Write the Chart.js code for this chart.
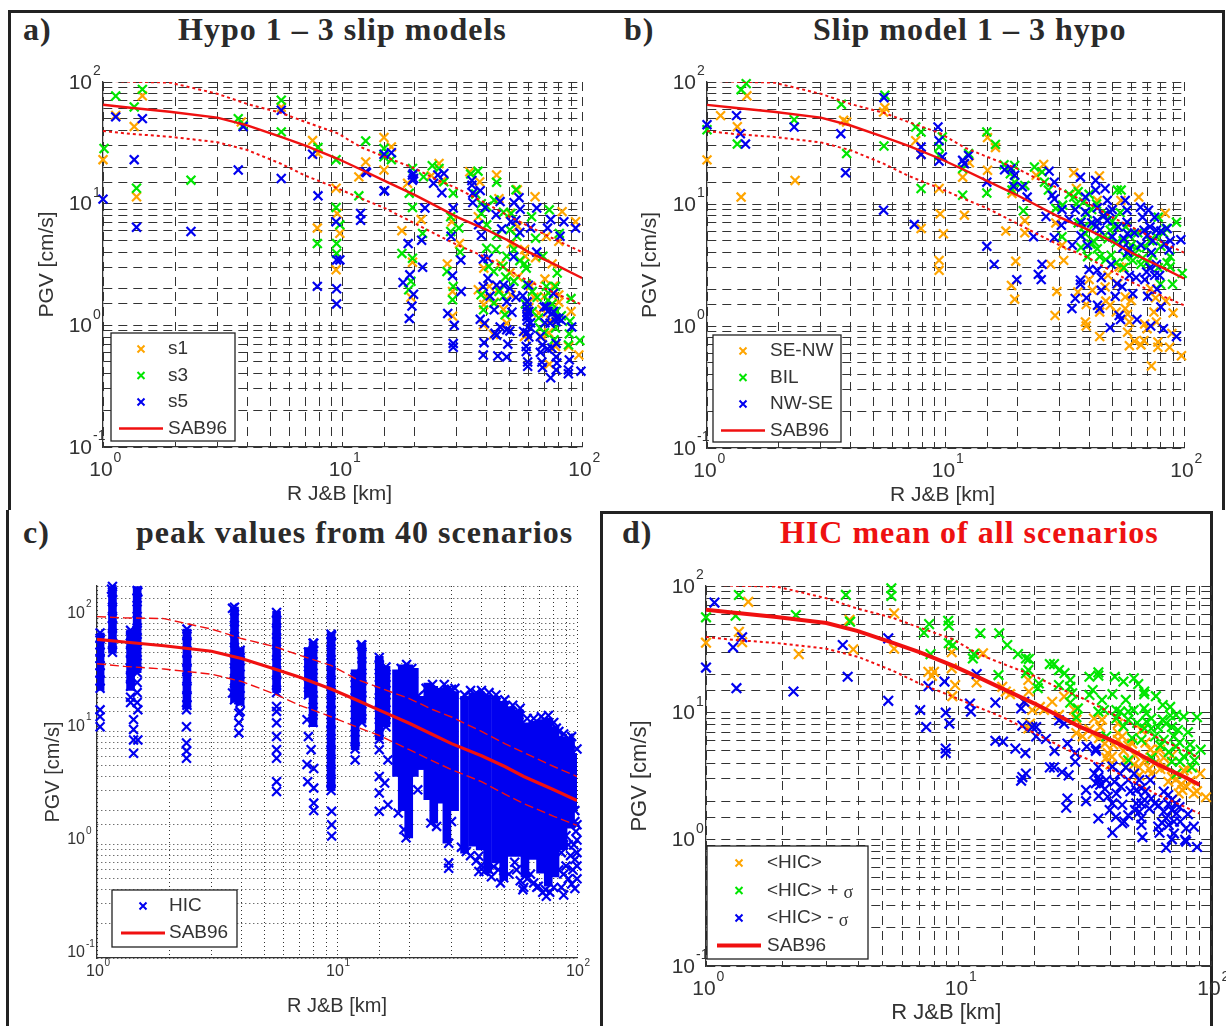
<!DOCTYPE html>
<html>
<head>
<meta charset="utf-8">
<title>PGV vs distance</title>
<script src="https://cdn.jsdelivr.net/npm/chart.js@4/dist/chart.umd.min.js"></script>
<style>
    html, body { margin: 0; padding: 0; background: #fff; width: 1226px; height: 1026px; overflow: hidden; }
    canvas { position: absolute; }
    .rule { position: absolute; background: #222; }
    .head { position: absolute; font: bold 32px "Liberation Serif", serif; letter-spacing: 1px; color: #2a2a2a; white-space: nowrap; line-height: 36px; }
    .red { color: #ee1111; }
</style>
</head>
<body>
<div class="rule" style="left:8px;top:10px;width:1216px;height:3px"></div>
<div class="rule" style="left:8px;top:10px;width:3px;height:500px"></div>
<div class="rule" style="left:1222px;top:10px;width:3px;height:500px"></div>
<div class="rule" style="left:6px;top:510px;width:3px;height:516px"></div>
<div class="rule" style="left:600px;top:511px;width:612px;height:3px"></div>
<div class="rule" style="left:600px;top:511px;width:3px;height:515px"></div>
<div class="rule" style="left:1210px;top:511px;width:3px;height:515px"></div>

<div class="head" style="left:23px;top:11px">a)</div>
<div class="head" style="left:178px;top:11px">Hypo 1 – 3 slip models</div>
<div class="head" style="left:624px;top:11px">b)</div>
<div class="head" style="left:813px;top:11px">Slip model 1 – 3 hypo</div>
<div class="head" style="left:23px;top:514px">c)</div>
<div class="head" style="left:136px;top:514px">peak values from 40 scenarios</div>
<div class="head" style="left:622px;top:514px">d)</div>
<div class="head red" style="left:780px;top:514px">HIC mean of all scenarios</div>

<canvas id="chartA"></canvas>
<canvas id="chartB"></canvas>
<canvas id="chartC"></canvas>
<canvas id="chartD"></canvas>

<script>
// SAB96 attenuation curve, mean and +/- sigma
const sabX = [1, 1.3, 1.9, 3, 4, 5.5, 7, 9.5, 12, 15, 20, 25, 30, 40, 50, 60, 80, 100];
const sabMean = [65, 61.5, 57, 51, 44, 35.5, 30, 23.5, 19, 15.4, 11.8, 9.4, 7.8, 6.1, 4.9, 4, 3.05, 2.45];
const sabUp = [103, 100.5, 99, 80, 66, 56, 47, 38, 29, 24.3, 19.5, 15.6, 13.4, 10, 7.8, 6.5, 4.9, 4];
const sabLow = [39.6, 37.5, 35.5, 32, 27.6, 21.4, 17, 13.4, 11, 9.2, 6.9, 5.5, 4.6, 3.6, 2.8, 2.3, 1.78, 1.48];

// Panel a: [distance, PGV]
const aS1 = [[1,23],[1.13,53],[1.35,43],[1.46,77],[1.38,11.4],[3.78,47],[5.55,62],[7.5,33],[7.9,25.8],[9.4,13.4],[9.5,8.3],[9.75,5.7],[9.4,2.86],[7.85,6.3],[11.7,16.6],[12.5,22],[14.9,35],[14.9,18.9],[16,29.3],[18.7,14.7],[17.7,6],[21.3,7.4],[19.6,3.3],[19.3,1.7],
    [25.3,21.4],[23.5,17],[26.3,15.6],[28.6,7.1],[30.8,4.7],[27.4,3.2],[28.8,1.9],[28.8,1.19],[34,18.3],[37.4,15.1],[36.9,7.8],[38.9,2.95],[36.9,1.96],[38.9,1.48],[38.8,1.01],[44,17.2],[45,11],[50,8.3],[53.7,13],[54,6.5],[50.6,4.7],[57.6,4.2],[63.7,11.4],[71,5.4],[80,4.9],[82.6,8.6],[94,7.1],[64,3.6],[50,2.7],[45.7,3.2],[45,2],[41,2.09],[50.6,1.78],[61,2.1],[66,1.26],[72.6,0.87],[69.7,1.73],[75,3.2],[80,1.78],[90,1.3],[97,0.57],[88,0.67],[73,0.48],[77.5,0.67],[68,0.81],[57.5,0.81],[48.5,1.04],[42.7,0.84],
    [60,1.4],[63,1.7],[68,1.35],[74,1.1],[80,1.55],[40,1.7],[43,1.55],[47,1.35],[54,2.5],[58,3.7],[70,2.4],[76,2.1]];
const aS3 = [[1.01,28.4],[1.13,76.7],[1.35,62.4],[1.46,87],[1.38,13.4],[2.33,15.6],[3.67,50],[3.85,44],[5.55,70.8],[5.55,38.9],[7.9,29],[9.4,23],[9.4,9.3],[9.75,6.7],[7.85,4.7],[9.45,4.7],[9.45,3.9],[11.7,11.6],[12.5,32.8],[14.9,28.4],[14.9,24.3],[16,23],[19.6,19.5],[19.6,9.3],[19,12.2],[17.7,3.9],[19.6,3.56],[19.3,2.3],[18.9,1.96],[21.8,16.6],[21.6,5.7],[23.7,20.5],[25.3,19.5],[26.5,15.1],[29,12.2],[28.3,7.8],[28.3,5.9],[30.6,6.3],[31,4],[27.3,2.77],[29,2.09],[28.8,1.62],[34.3,17.5],[36.8,18.5],[38,10],[38,8.3],[40,6.7],[40,4.3],[43.8,4.2],[40.8,3.05],[44,15],[43,10.7],[50.6,8.3],[53,13],[50,6.1],[53.5,5.4],[48.5,3.7],[46.8,3.05],[42.8,2.77],[37.9,1.78],[38.8,1.34],[42.9,1.52],[47,1.73],[47.7,1.22],[57.5,3.2],[58.5,2.95],[58.5,2.2],[61.6,7.8],[64,5.2],[68.7,3.7],[73,8.9],[80.4,5.7],[78.8,2.69],[71,2.09],[77.5,2.09],[72.5,1.84],[90,1.66],[89,1.08],[88.5,0.85],[87.8,0.69],[98,0.75],[66.7,0.95],[69.7,0.87],[76.5,0.76],[77.5,0.95],
    [62,1.3],[66,1.15],[72,1.6],[75,1.5],[78,1.3],[82,1.2],[58,1.5],[62,1.9],[65,1.7],[45,1.9],[52,2.3],[48,2.5],[55,3.4],[52,4.2],[44,5.5],[47,8.5],[36,12],[40,9.5]];
const aS5 = [[1,10.9],[1.13,51.7],[1.35,23],[1.38,6.4],[1.46,50],[2.33,5.9],[3.67,18.9],[3.85,43],[5.55,58.6],[5.55,16.1],[7.5,25.5],[7.9,11.6],[9.4,7.1],[9.45,3.45],[9.75,3.45],[7.85,2.09],[9.45,2],[9.45,1.5],[11.9,8.3],[11.9,7.3],[12.5,18.3],[14.9,12.7],[14.9,25.5],[16,26.2],[19.6,17.2],[19.6,15.6],
    [12.6,18],[15,12.8],[19.8,17.7],[19.8,16.1],[22.1,9.2],[18.8,4.7],[21.4,5],[21.6,3],[19.1,2.6],[17.9,2.25],[19.8,1.8],[19.5,1.44],[19,1.14],[24,14.7],[25,17.2],[26.5,17.7],[26,12.3],[29,9.2],[28.4,5.4],[28.8,2.56],[31.2,3.44],[31.3,1.9],[27.5,1.25],[29.3,1],[29,0.71],[29,0.66],[34.7,15.5],[34.7,14.2],[35,12.2],[37.6,12.8],[35,10.2],[39.4,9.3],[43.8,8.1],[45.5,10.4],[37,6.7],[38,5.5],[46.2,6.2],[52,10.2],[54.6,11.2],[55.2,9],[50.5,7.1],[53,7.3],[55,5.8],[64.7,9.2],[61,6.3],[64.7,4],[71.8,6.3],[74,7.4],[84,7.1],[81,5.4],[94,6.3],[38.7,3.5],[40.5,3.55],[40.5,2.43],[38.7,2.08],[41.3,1.74],[44,2.14],[47,2.14],[50,2.01],[48.5,1.56],[51,1.28],[43,1.34],[37.6,1.12],[39.2,1.04],[45.5,0.97],[43.3,0.86],[44,0.83],[48.5,0.92],[39,0.72],[38.7,0.57],[44.5,0.56],[48.5,0.55],[49,0.7],[51.8,3.66],[56.6,1.75],[59,1.56],[59,1.42],[59,1.29],[59,1.18],[59,1.2],[59,1.1],[57,0.89],[59,0.87],[58.5,0.67],[58.5,0.61],[59.3,0.5],[59.3,0.46],[59.7,2.14],[67,0.81],[68.4,0.69],[68,0.5],[68.4,0.45],[69.5,1.42],[71,1.42],[73.6,1.04],[71.8,0.64],[74.8,0.65],[78,0.71],[74,0.37],[78.5,0.49],[78,0.43],[76,1.83],[76,1.3],[80,1.14],[78,1.07],[88.5,0.52],[87.7,0.43],[87.7,0.4],[90.6,0.97],[99,0.42],
    [72,1.3],[75,1.25],[78,1.15],[82,1.1],[70,1.05],[60,1.3],[61,1.05],[61,0.95],[60,0.8],[67,0.6],[78,0.55],[50,0.9],[53,1.7]];

// Panel b
const bSeNw = [[1,23],[1.14,53],[1.34,43],[1.47,77],[1.39,11.4],[2.34,15.6],[3.74,48.5],[3.85,47],[5.57,61.6],[5.5,56.8],[7.5,33],[7.9,25.5],[9.4,13.4],[9.5,8.3],[7.9,6.3],[9.8,5.7],[9.4,3.45],[9.4,2.86],[12,8.1],[11.8,16.6],[12.6,21.8],[15,35],[15,18.9],[16.2,29],[17.9,6],[19.7,3.4],[18.9,2.15],[19.5,1.66],[21.5,7.3],[21.5,5.8],[19,12.2],[24,17.2],[25.8,21.1],[29,7],[27.6,3.2],[31.3,3.45],[30.8,4.6],[29.3,1.92],[28.8,1.22],[34.5,18],[35.4,13.4],[44.2,17],[38.6,1.08],[38.9,1],[44.3,0.82],[41.3,1.96],[38.9,1.5],[44.3,1.3],[46.7,2.09],[49,1.48],[53.5,3.05],[56.7,1.39],[60,1.62],[59,1.08],[58,0.89],[59,0.69],[67.9,0.76],[73,0.47],[77.7,0.67],[77.7,0.74],[87,0.67],[97.6,0.57],[90,1.28],[83.5,8.4],[64.6,11.4],[74.8,1.3],[72.4,2.02],[76.6,1.08],[89,0.87],[68.4,1.04],[54.4,10.7],[43.3,10.7],[56.7,1.73],[52.8,2.22],[35.9,1.9],
    [52,1.3],[47,1.6],[62,0.75],[66,0.7],[70,0.95],[58,1.25],[76,1.7],[84,1.6],[40,2.4],[48,2.6],[55,3]];
const bBil = [[1,40.6],[1.34,31],[1.39,86.5],[1.46,97],[2.32,49],[3.66,65.6],[3.85,25.9],[5.57,77.8],[5.52,29.9],[7.5,42.8],[7.9,38.9],[7.9,13.4],[9.4,25],[9.4,29.3],[9.7,35.4],[11.8,19.5],[11.8,11.8],[12.5,25.9],[14.9,38.9],[14.9,12.3],[16.2,30.8],[17.6,21],[19.5,20.7],[18.7,17.7],[19.5,15.1],[19,13],[21.5,14.2],[21.2,8.8],[23.6,20.1],[25.4,18.3],[26,15.1],[27,13],[30.8,5.4],[29,9.2],[34.5,11.4],[35.4,10],[39.4,8.3],[38.6,5.7],[40.6,4.7],[43.3,4.3],[44.3,3.7],[39.4,3.7],[49,6.1],[51,6.5],[52.5,13],[54.5,13],[49.5,3.8],[56.8,3.7],[61,3.45],[63.5,4.4],[69.5,4.4],[67,3.6],[76.6,5.4],[84,6.3],[78,7.8],[93,7.1],[87.5,3.7],[87.5,3.05],[89.5,2.2],[98.3,2.7],[79.7,2.2],[55.5,5],[47.5,8.3],[43,10],[37.9,10.4],
    [36,7],[38,6.5],[41,9],[42,6.8],[44,5.5],[46,8],[48,5.2],[50,7.2],[52,4.8],[54,8.5],[57,6.5],[59,5.5],[60,4.6],[62,3.9],[64,5.8],[66,3.2],[70,3.3],[72,5],[74,3.8],[78,3],[80,4.5],[82,5.8],[85,3.3],[47,3.5],[52,3.3],[56,3],[42,4.9],[37,4.4],[33,12],[31,9.8],[36,12.6],[40,12]];
const bNwSe = [[1,44.7],[1.33,53],[1.38,37.7],[1.45,31],[2.32,42.8],[3.64,37.7],[3.81,18],[5.52,74.4],[5.5,8.9],[7.4,6.8],[7.9,29.3],[7.9,25.5],[9.3,42.8],[9.4,33],[9.7,24.3],[9.4,22.5],[11.8,22.8],[12,21.4],[12.5,25],[14.9,15.1],[14.9,4.5],[16,3.2],[17.7,19.1],[18.8,19.5],[19.5,17.2],[19.3,14],[21,13.8],[22,11.4],[19.9,2.4],[23.4,5.4],[25.4,3.2],[24.5,2.65],[25.2,2.4],[27.2,18.6],[26.4,7.9],[28.6,15.1],[28,11.8],[28.6,11],[30.8,9],[30.6,6.7],[28.6,5.3],[34,4.6],[36.8,16.6],[38.6,11.4],[38.6,8.6],[37,7.1],[37,5.5],[39.4,4.6],[40,2.9],[36.8,2.37],[36.8,2.2],[39,1.7],[35,1.68],[33.9,1.39],[43.3,2.86],[42.6,15.6],[42.6,13],[43.3,9.3],[43.3,7.3],[44.3,6.1],[46.7,13.4],[47.7,10.7],[49,8.6],[47.7,7.3],[50,5.4],[49.5,3.2],[45,1.96],[51.5,1.75],[43.4,1.48],[44.3,1.39],[53.5,1.22],[54.2,1.13],[49,0.97],[52.3,2.22],[56.7,10.7],[57.7,8.9],[57.7,7.1],[58,5.7],[59,4.3],[55.5,4.4],[59,2.6],[61,1.84],[63.5,1.13],[65.7,9.4],[67,7.8],[71,8.9],[68,6.1],[72,6.5],[76.6,6.1],[75.3,7.8],[73,4],[76.6,3.2],[69.7,2.77],[68.5,2.4],[75.3,2.6],[77,2],[70.4,1.75],[80,1.43],[72.5,1],[82,0.95],[93,0.82],[85,6.3],[87.5,5],[97,5.1],[86.6,4.2],
    [41,7],[43,6.6],[46,8],[50,9],[53,6.5],[56,5.2],[58,4],[62,5.8],[66,4.6],[70,5.5],[74,5],[80,6],[83,4.7],[72,3],[79,2.6],[45,2.5],[55,2.1],[63,2.5],[35,9],[33,7.5]];

// Panel c: range of the 40 scenarios at each distance, then the marks read along and around it
const cX = [1.03,1.16,1.38,1.47,2.37,3.74,3.95,5.6,7.6,7.95,9.45,11.9,12.7,15,16,17.7,18.7,19.9,21,22.1,23.9,25.3,27.2,28.7,30.9,34,36.8,39.5,42.4,46,49.5,53,57.5,60.7,65.5,70.5,75.9,81,87.5,94,100];
const cLow = [23,49,23,33,16,18,17,22,20,11,3,6.9,11.8,8.4,11,4,2,1.15,4,4.6,2.5,1.55,2.33,1.03,2,0.84,0.97,0.9,0.56,0.69,0.49,0.79,0.79,0.52,0.74,0.56,0.43,0.52,0.9,1.4,2];
const cHigh = [74,190,79,190,80,125,55,115,55,62,74,35,60,46,37.5,35,38.7,38.7,36,20.4,26.7,25,24,25,22.5,20.4,21.8,22.5,21,20.4,18.4,16.6,15.5,11.9,12.3,12.7,13.1,11,9,8.7,6.4];
const cColumns = [
    [1.03, [24,28,33,38,44,50,58,66,74]],
    [1.16, [50,60,70,85,100,120,145,170,190]],
    [1.38, [18,20,25,30,36,42,50,60,70,78]],
    [1.47, [18,22,27,33,40,50,62,78,95,120,150,175]],
    [2.37, [17,20,24,29,35,42,50,60,72,80]],
    [3.74, [19,23,28,34,42,52,64,80,100,125]],
    [3.95, [15,18,24,32,42,52]],
    [5.6, [22,27,33,40,50,62,78,95,112]],
    [7.6, [21,26,32,40,50]],
    [7.95, [12,15,19,24,30,38,48,60]],
    [9.45, [3,3.6,4.4,5.4,6.6,8,10,12,15,18,22,27,33,40,50,62,72]],
    [11.9, [7,8.5,11,14,18,23,30]],
    [12.7, [12,15,19,24,30,38,48,58]],
    [15, [8.5,11,14,18,23,30,38,45]],
    [16, [11,14,18,23,30,37]],
];
const cLoose = [[1.03,15.5],[1.03,13.5],[1.03,11],[1.42,12.7],[1.42,10.4],[1.42,8.4],[1.42,6.4],[1.48,15.5],[1.48,8.4],[2.36,15.5],[2.36,11],[2.36,7.9],[2.36,6.7],[2.36,5.8],[3.67,21.8],[3.9,19],[3.9,14.5],[3.9,11.9],[3.9,9.7],[5.6,16.6],[5.6,15],[5.6,11.9],[5.6,9],[5.6,6.9],[5.6,5.8],[5.6,3.6],[5.6,2.95],[7.5,12.7],[7.6,9],[7.8,6.9],[7.5,5.1],[8,4.7],[7.55,3.6],[8,3.16],[8,2.33],[8,2],[9.5,1.97],[9.5,1.5],[9.5,1.19],[11.9,5.6],[15,6.9],[15,4],[15,2.86],[15,1.97],[16.3,2.25],[16.3,5.6],[15.8,3.5],[18,1.9],[19,1.36],[19.4,1.15],[21.7,3.05],[24.6,1.55],[26,1.45],[29.2,1.03],[29.2,0.69],[29.2,0.62],[34.6,0.87],[39,0.79],[39,0.58],[45,0.64],[49.5,0.51],[59.5,0.4],[69,0.43],[74.5,0.35],[88,0.36],[98,0.41],[98,0.74],[99,1.31],[98,2],[21.7,20.4],[30,23.5],[38,21.8],[73,12.7],[82,10.7],[92,8.7],[3.67,122],[8,60],[9.5,70],[12.6,58],[1.15,180],[1.48,170],
    [30,1.6],[33,0.95],[36,0.8],[38,0.72],[40,0.66],[41,0.58],[43,0.6],[44,0.52],[47,0.6],[48,0.46],[52,0.55],[55,0.7],[56,0.6],[58,0.48],[60,0.42],[62,0.5],[64,0.55],[66,0.46],[68,0.42],[72,0.38],[74,0.4],[77,0.38],[80,0.42],[84,0.6],[86,0.42],[88,0.55],[90,0.65],[92,0.5],[94,0.8],[95,0.45],[96,0.6],[97,1],[100,0.5],[100,0.65],[100,0.85],[100,1.1],[100,1.5],[98,1.6],[92,1],[90,1.2],[86,0.85],[88,1],
    [18.5,36],[19.5,39],[20.5,36],[23.5,24],[25,26],[28,26],[31,24],[34,21],[36,23],[40,23],[43,22],[46,21],[50,19],[54,17],[58,16],[62,13],[66,13],[71,13.5],[76,13.8],[80,12],[84,10],[88,9.5],[95,9],[100,7]];

// Panel d
const dMean = [[1,35.7],[1.35,43.5],[1.39,36],[1.47,75],[2.33,29],[3.7,54],[3.83,31.6],[5.56,60.8],[5.56,32],[7.6,21],[8,21],[7.85,19.5],[9.4,30],[9.4,22.4],[9.7,16.5],[9.45,13.5],[12.5,29.4],[11.8,17.3],[14.9,16],[15.4,14.7],[16,14],[18.9,18.1],[19,14.7],[18.2,12.2],[19.6,10.5],[19.2,8.2],[18.9,7.5],[21,11.1],[21.8,10.5],[23.5,12.2],[25,9.6],[28.7,10.5],[29.3,8.8],[29.3,6.9],[26.2,13.4],[34.4,9],[34,6.8],[36.4,7.7],[37,8.8],[39,4.8],[40.5,4.5],[38.5,4.4],[42.8,6.9],[44.5,6.5],[42.8,6.1],[45.3,4.2],[49.5,3.9],[48.7,5.7],[53,7.3],[57.5,5.1],[59.5,4.8],[54.5,4.2],[58,3.3],[67.8,2.85],[62.8,5.1],[70,4.6],[78,3.5],[74.5,2.3],[77,2.45],[85.5,2.3],[90.7,3.3],[95.5,2.15],[80.5,3.6],[42.8,8.2],[65,4.4],[52,3.7],
    [45,5],[47,5.5],[50,4.6],[55,5.8],[60,4],[63,3.6],[66,3.7],[70,3.1],[73,3],[76,2.7],[80,2.6],[83,2.9],[88,2.4],[41,5.6],[38,5.7],[36,6.3],[33,7.4],[31,6.5],[40,3.9],[46,3.7],[52,3.2],[57,3.6]];
const dPlus = [[1,56.6],[1.31,58.3],[1.35,84.9],[2.27,59],[3.58,85],[3.72,52.3],[5.42,96],[5.42,83.4],[7.3,42.8],[7.65,50],[7.75,29],[9.1,53.2],[9.15,48.6],[9.15,35.3],[9.5,34.2],[11.5,29],[11.4,26.8],[12.2,42.3],[14.5,42.3],[14.4,19.8],[15.6,34.2],[17.2,29],[18.5,26.8],[19,26.5],[18.9,21.7],[18.5,20.5],[20.8,17],[20.6,15.6],[23,24.2],[23.9,24.2],[25,21.7],[26.3,20.5],[25,16.5],[27.7,18.1],[27.7,16],[28.2,14.2],[27.7,12],[29.7,10.8],[29.3,9.2],[33,19.2],[35.8,20.8],[35.8,19.6],[34,15.1],[33,13.8],[37,12.6],[35.8,10.2],[37.7,10.5],[41.6,19.2],[45,17.6],[40.7,14],[49.5,18.7],[51.5,16.8],[54.4,14.7],[54.4,14],[46,12.6],[60.5,13.5],[64.4,11.5],[68.9,11.1],[72.7,9.6],[42.2,10.5],[43.7,10.2],[47,10.2],[49.4,10.5],[54.4,10.8],[55.5,9.9],[42.2,9],[47,8.8],[55.5,8.5],[54.5,7.5],[38.5,6.5],[48.7,6.3],[53,6.1],[64.4,8.8],[66.4,8.2],[61.6,7.7],[70,7.7],[74,7.3],[71.3,6.5],[78,9.3],[88,9.2],[81,7],[65,6.1],[82.6,5.6],[82.6,4.9],[91,5.1],[72.7,5.4],[68,4.9],[70,4.1],[75.3,4.1],[84,3.7],[73,3.3],[58.2,4.4],[47,4.2],
    [60,6.5],[63,5.5],[58,9],[75,5.8],[78,4.5],[86,4.2],[45,7.8],[51,8.3],[58,7.5],[69,9.5]];
const dMinus = [[1,22.7],[1.08,74],[1.28,32.8],[1.39,39.4],[1.32,15.6],[2.22,14.7],[3.48,34.2],[3.64,19.2],[5.27,38.6],[5.27,12.4],[7.05,10.5],[7.45,7.7],[7.6,16.2],[8.8,17.6],[8.9,10],[9.2,8.2],[8.9,5.2],[8.9,4.8],[11.1,11.8],[11.2,10.2],[11.8,20.2],[14,12],[14,6],[15,5.9],[16.8,5.2],[18.4,4.8],[17.7,10.8],[18.2,12.2],[17.9,7.9],[20.3,7.7],[19.6,7.7],[20.3,6.5],[22.2,6.2],[24,5],[27,5.7],[29,4.8],[26.2,8.2],[25,8.7],[18.5,3.3],[17.9,3.1],[17.7,2.9],[23,3.7],[23.9,3.7],[25.7,3.4],[27.3,3.2],[27,2.1],[26.7,1.78],[29,4.1],[32.2,5.4],[35,5.2],[35,5],[32,2.45],[32,2],[35.8,3.7],[34.5,3.3],[35.8,3.1],[35,2.77],[36.4,2.7],[35.9,2.2],[35.8,1.46],[40.7,3.75],[38.5,2.94],[41.5,2.85],[43.7,3.3],[46,3.7],[47,2.94],[39,2.17],[42.2,2.3],[40.7,1.92],[39.7,1.7],[44.5,1.87],[50.6,1.92],[40.7,1.13],[44.5,1.34],[45.3,1.38],[49.6,3.3],[52,2.94],[50.6,2.45],[53,2.53],[57.5,2.94],[54.5,2.05],[53,1.92],[52,1.65],[53,1.47],[53,1.3],[53.5,1.04],[60,1.92],[65,2.38],[67.7,2.24],[70,2.05],[72.5,1.92],[70,1.7],[65,1.65],[66.4,1.47],[61.8,1.26],[62.5,1.13],[71.3,1.38],[75.5,1.38],[81,1.58],[71.3,1.11],[70,1],[79.7,1.22],[85.5,1.26],[79,0.99],[79.7,0.96],[66.4,0.86],[88,0.87],
    [44,2.6],[48,2.4],[55,2.4],[58,2.1],[62,1.85],[68,1.9],[73,1.6],[75,1.8],[68,1.3],[50,1.7],[47,1.55],[42,1.5],[36,2.9],[38,2.5],[57,1.75],[64,1.35]];

const ORANGE = "#ffa500";
const GREEN = "#00e600";
const BLUE = "#0000f0";
const RED = "#f01010";
const TEXT = "#333333";

const toPoints = (xs, ys) => xs.map((x, i) => ({ x: x, y: ys[i] }));

// Marks for one series
function marks(points, color, order, radius) {
    return {
        type: "scatter",
        data: points,
        order: order,
        showLine: false,
        clip: false,
        pointStyle: "crossRot",
        pointRadius: radius,
        pointHoverRadius: radius,
        pointBorderWidth: 2.2,
        pointBorderColor: color,
        pointBackgroundColor: color,
    };
}

// SAB96 curve, solid or broken
function curve(xs, ys, width, dash) {
    return {
        type: "line",
        data: toPoints(xs, ys),
        order: 0,
        borderColor: RED,
        borderWidth: width,
        borderDash: dash || [],
        pointRadius: 0,
        tension: 0,
    };
}

// Draws 10 with a raised exponent next to each decade
const decadeLabels = {
    id: "decadeLabels",
    afterDraw(chart, args, opts) {
        const ctx = chart.ctx;
        ctx.save();
        ctx.fillStyle = TEXT;
        ctx.textBaseline = "middle";
        [-1, 0, 1, 2].forEach((e) => {
            const py = chart.scales.y.getPixelForValue(Math.pow(10, e));
            ctx.font = opts.size + 'px "Liberation Sans"';
            ctx.textAlign = "right";
            ctx.fillText("10", chart.chartArea.left + opts.yLabelX, py + opts.yLabelY);
            ctx.font = opts.expSize + 'px "Liberation Sans"';
            ctx.textAlign = "left";
            ctx.fillText(String(e), chart.chartArea.left + opts.yLabelX + 1, py + opts.yLabelY - opts.size * 0.55);
        });
        [0, 1, 2].forEach((e) => {
            const px = chart.scales.x.getPixelForValue(Math.pow(10, e));
            ctx.font = opts.size + 'px "Liberation Sans"';
            ctx.textAlign = "center";
            ctx.fillText("10", px + opts.xLabelX, chart.chartArea.bottom + opts.xLabelY);
            ctx.font = opts.expSize + 'px "Liberation Sans"';
            ctx.textAlign = "left";
            ctx.fillText(String(e), px + opts.xLabelX + opts.size * 0.6, chart.chartArea.bottom + opts.xLabelY - opts.size * 0.55);
        });
        ctx.restore();
    },
};

// Boxed legend sitting on top of the plot
const boxLegend = {
    id: "boxLegend",
    afterDraw(chart, args, opts) {
        const ctx = chart.ctx;
        const area = chart.chartArea;
        const left = area.left + opts.x;
        const top = area.bottom + opts.y;
        ctx.save();
        ctx.fillStyle = "#fff";
        ctx.strokeStyle = "#222";
        ctx.lineWidth = 1.3;
        ctx.fillRect(left, top, opts.w, opts.h);
        ctx.strokeRect(left, top, opts.w, opts.h);
        opts.rows.forEach((row, i) => {
            const cy = top + opts.first + i * opts.step;
            const mx = left + opts.markX;
            ctx.strokeStyle = row.color;
            if (row.line) {
                ctx.lineWidth = row.line;
                ctx.beginPath();
                ctx.moveTo(mx - 22, cy);
                ctx.lineTo(mx + 22, cy);
                ctx.stroke();
            } else {
                ctx.lineWidth = 2;
                ctx.beginPath();
                ctx.moveTo(mx - 3.5, cy - 3.5);
                ctx.lineTo(mx + 3.5, cy + 3.5);
                ctx.moveTo(mx - 3.5, cy + 3.5);
                ctx.lineTo(mx + 3.5, cy - 3.5);
                ctx.stroke();
            }
            ctx.fillStyle = TEXT;
            ctx.font = opts.font + 'px "Liberation Sans"';
            ctx.textAlign = "left";
            ctx.textBaseline = "middle";
            ctx.fillText(row.label, left + opts.textX, cy);
            if (row.sigma) {
                const w = ctx.measureText(row.label + " ").width;
                ctx.font = (opts.font - 1) + 'px "Liberation Serif"';
                ctx.fillText("σ", left + opts.textX + w, cy + 3);
            }
        });
        ctx.restore();
    },
};

const Y_WIDTH = 90;
const X_HEIGHT = 60;
const TOP_PAD = 20;
const RIGHT_PAD = 30;

function makePanel(id, area, datasets, look) {
    const canvas = document.getElementById(id);
    const width = area.right - area.left + Y_WIDTH + RIGHT_PAD;
    const height = area.bottom - area.top + X_HEIGHT + TOP_PAD;
    canvas.style.left = area.left - Y_WIDTH + "px";
    canvas.style.top = area.top - TOP_PAD + "px";
    canvas.width = width;
    canvas.height = height;

    const grid = { color: look.gridColor, lineWidth: 1, drawTicks: false };
    const border = { display: true, color: "#333", width: 1.3, dash: look.dash };
    const titleFont = { family: "Liberation Sans", size: look.titleSize };

    new Chart(canvas, {
        type: "scatter",
        data: { datasets: datasets },
        plugins: [decadeLabels, boxLegend],
        options: {
            responsive: false,
            animation: false,
            layout: { padding: { top: TOP_PAD, right: RIGHT_PAD, left: 0, bottom: 0 } },
            plugins: {
                legend: { display: false },
                tooltip: { enabled: false },
                decadeLabels: look.labels,
                boxLegend: look.legend,
            },
            scales: {
                x: {
                    type: "logarithmic",
                    min: 1,
                    max: 100,
                    offset: false,
                    grid: Object.assign({ offset: false }, grid),
                    border: border,
                    ticks: { display: false, autoSkip: false },
                    title: { display: true, text: look.xTitle, color: TEXT, font: titleFont, padding: { top: look.xTitlePad, bottom: 0 } },
                    afterFit: (scale) => { scale.height = X_HEIGHT; },
                },
                y: {
                    type: "logarithmic",
                    min: 0.1,
                    max: look.yMax,
                    grid: grid,
                    border: border,
                    ticks: { display: false, autoSkip: false },
                    title: { display: true, text: "PGV [cm/s]", color: TEXT, font: titleFont, padding: { top: look.yTitlePad, bottom: 0 } },
                    afterFit: (scale) => { scale.width = Y_WIDTH; },
                },
            },
        },
    });
}

const dashed = [9, 6];
const dotted = [3, 3];
const bigLabels = { size: 21, expSize: 14, yLabelX: -11, yLabelY: 1, xLabelX: -2, xLabelY: 23 };

// a) Hypo 1 - 3 slip models
makePanel("chartA", { left: 103, top: 82, right: 582, bottom: 447 }, [
    curve(sabX, sabMean, 2.4),
    curve(sabX, sabUp, 2, dotted),
    curve(sabX, sabLow, 2, dotted),
    marks(aS5, BLUE, 1, 6.3),
    marks(aS3, GREEN, 2, 6.3),
    marks(aS1, ORANGE, 3, 6.3),
], {
    yMax: 100, gridColor: "#333", dash: dashed, xTitle: "R J&B [km] ", xTitlePad: 1.5, yTitlePad: 21.5, titleSize: 21, labels: bigLabels,
    legend: {
        x: 8, y: -114, w: 124, h: 108, first: 16, step: 26.5, markX: 30, textX: 57, font: 19,
        rows: [
            { label: "s1", color: ORANGE },
            { label: "s3", color: GREEN },
            { label: "s5", color: BLUE },
            { label: "SAB96", color: RED, line: 2.4 },
        ],
    },
});

// b) Slip model 1 - 3 hypo
makePanel("chartB", { left: 707, top: 82, right: 1184, bottom: 448 }, [
    curve(sabX, sabMean, 2.4),
    curve(sabX, sabUp, 2, dotted),
    curve(sabX, sabLow, 2, dotted),
    marks(bNwSe, BLUE, 1, 6.3),
    marks(bBil, GREEN, 2, 6.3),
    marks(bSeNw, ORANGE, 3, 6.3),
], {
    yMax: 100, gridColor: "#333", dash: dashed, xTitle: "R J&B [km] ", xTitlePad: 1.5, yTitlePad: 20.5, titleSize: 21, labels: bigLabels,
    legend: {
        x: 6, y: -113, w: 128, h: 107, first: 16, step: 26.5, markX: 30, textX: 57, font: 19,
        rows: [
            { label: "SE-NW", color: ORANGE },
            { label: "BIL", color: GREEN },
            { label: "NW-SE", color: BLUE },
            { label: "SAB96", color: RED, line: 2.4 },
        ],
    },
});

// c) peak values from 40 scenarios
const cColumnPoints = cColumns.flatMap((col) => col[1].map((y) => [col[0], y]));
makePanel("chartC", { left: 97, top: 586, right: 577, bottom: 958 }, [
    curve(sabX, sabMean, 3.2),
    curve(sabX, sabUp, 1.4, [9, 4]),
    curve(sabX, sabLow, 1.4, [9, 4]),
    marks(cLoose.concat(cColumnPoints), BLUE, 1, 6.3),
    {
        type: "bar",
        data: cX.map((x, i) => ({ x: x, y: [cLow[i], cHigh[i]] })),
        order: 2,
        backgroundColor: BLUE,
        barThickness: 8,
        borderWidth: 0,
    },
], {
    yMax: 192, gridColor: "#333", dash: [1, 3], xTitle: "R J&B [km]", xTitlePad: 11.5, yTitlePad: 34.5, titleSize: 20,
    labels: { size: 16, expSize: 10, yLabelX: -12, yLabelY: -5, xLabelX: -2, xLabelY: 14 },
    legend: {
        x: 15, y: -68, w: 125, h: 57, first: 16, step: 27, markX: 31, textX: 57, font: 19,
        rows: [
            { label: "HIC", color: BLUE },
            { label: "SAB96", color: RED, line: 3.2 },
        ],
    },
});

// d) HIC mean of all scenarios
const sabShortX = sabX.slice(0, -1).concat([90]);
makePanel("chartD", { left: 706, top: 586, right: 1211, bottom: 966 }, [
    curve(sabShortX, sabMean.slice(0, -1).concat([2.7]), 4),
    curve(sabShortX, sabUp.slice(0, -1).concat([4.4]), 2, dotted),
    curve(sabShortX, sabLow.slice(0, -1).concat([1.6]), 2, dotted),
    marks(dMinus, BLUE, 1, 6.8),
    marks(dPlus, GREEN, 2, 6.8),
    marks(dMean, ORANGE, 3, 6.8),
], {
    yMax: 100, gridColor: "#333", dash: dashed, xTitle: "R J&B [km]    ", xTitlePad: 1.5, yTitlePad: 10.5, titleSize: 22, labels: bigLabels,
    legend: {
        x: 1, y: -120, w: 161, h: 113, first: 17, step: 27.5, markX: 32, textX: 60, font: 19,
        rows: [
            { label: "<HIC>", color: ORANGE },
            { label: "<HIC> +", color: GREEN, sigma: true },
            { label: "<HIC> -", color: BLUE, sigma: true },
            { label: "SAB96", color: RED, line: 4 },
        ],
    },
});
</script>
</body>
</html>
